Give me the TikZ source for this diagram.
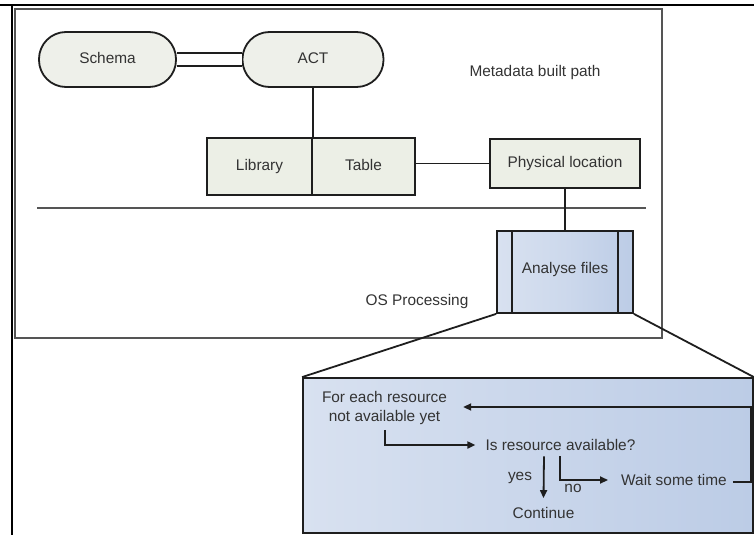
\documentclass[tikz,border=0pt]{standalone}
\usepackage{fontspec}
\setmainfont{Liberation Sans}
\usetikzlibrary{arrows.meta,calc}
\definecolor{pillfill}{HTML}{EEF0EA}
\definecolor{boxfill}{HTML}{ECEFE6}
\definecolor{txt}{HTML}{333333}
\definecolor{ln}{HTML}{1E1E1E}
\definecolor{frame}{HTML}{555555}
\definecolor{bluea}{HTML}{D8E1F0}
\definecolor{blueb}{HTML}{BCCCE6}
\newcommand{\fs}{\fontsize{15.4}{19}\selectfont}
\begin{document}
\begin{tikzpicture}[x=1pt,y=-1pt,
  pill/.style={draw=ln, line width=1.8pt, fill=pillfill, rounded corners=27pt,
    minimum height=55pt, text=txt, font=\fs, inner sep=0, text height=11pt, text depth=3pt},
  boxnode/.style={draw=ln, line width=1.8pt, fill=boxfill, text=txt, font=\fs, inner sep=0,
    text height=11pt, text depth=3pt},
  conn/.style={line width=1.8pt, draw=ln},
  arr/.style={conn, -{Triangle[length=8pt,width=7pt]}},
  ftext/.style={inner sep=0, text=txt, font=\fs, align=center}]
\useasboundingbox (0,0) rectangle (754,535);
% outer frame lines
\coordinate (ftl) at (0,5);
\coordinate (ftr) at (754,5);
\coordinate (fl1) at (12,5);
\coordinate (fl2) at (12,535);
\draw[line width=2.2pt, black] (ftl) -- (ftr);
\draw[line width=1.5pt, black] (fl1) -- (fl2);
% inner frame
\coordinate (ia) at (15,9);
\coordinate (ib) at (662,338);
\draw[frame, line width=1.6pt] (ia) rectangle (ib);
% separator
\coordinate (s1) at (37,208);
\coordinate (s2) at (646,208);
\draw[frame, line width=1.5pt] (s1) -- (s2);

% top nodes
\node[pill, minimum width=137pt] (schema) at (107.5,59.5) {Schema};
\node[pill, minimum width=141pt] (act) at (313,59.5) {ACT};
\node[boxnode, minimum width=105pt, minimum height=57pt] (library) at (259.5,166.5) {Library};
\node[boxnode, minimum width=103pt, minimum height=57pt] (table) at (363.5,166.5) {Table};
\node[boxnode, minimum width=150pt, minimum height=49pt] (phys) at (565,163.5) {Physical location};
\node[ftext] (meta) at (535,73) {Metadata built path};
\node[ftext] (osp) at (417,302) {OS Processing};

% Analyse files
\node[draw=ln, line width=1.8pt, left color=bluea, right color=blueb, middle color=bluea!60!blueb,
  minimum width=136pt, minimum height=82pt, inner sep=0] (analyse) at (565,272) {};
\draw[ln, line width=1.8pt] ($(analyse.north west)+(16,0)$) -- ($(analyse.south west)+(16,0)$);
\draw[ln, line width=1.8pt] ($(analyse.north east)+(-16,0)$) -- ($(analyse.south east)+(-16,0)$);
\node[ftext] (alabel) at (565,270) {Analyse files};

% bottom box
\node[draw=ln, line width=1.8pt, left color=bluea, right color=blueb, middle color=bluea!50!blueb,
  minimum width=450pt, minimum height=155pt, inner sep=0] (bottom) at (528,455.5) {};

% connectors top
\draw[conn, double=white, double distance=11pt, line width=1.5pt] (schema.east) -- (act.west);
\draw[conn] (act.south) -- (act.south |- library.north);
\draw[conn] (phys.west) -- (phys.west -| table.east);
\draw[conn] (phys.south) -- (analyse.north);
\draw[conn] (analyse.south west) -- (bottom.north west);
\draw[conn] (analyse.south east) -- (bottom.north east);

% flow texts
\node[ftext] (foreach) at (384.5,408) {For each resource\\not available yet};
\node[ftext] (isavail) at (560.5,445) {Is resource available?};
\node[ftext] (wait) at (674,480) {Wait some time};
\node[ftext] (cont) at (543.5,513) {Continue};
\node[ftext] (yes) at (520,478) {yes};
\node[ftext] (no) at (573,488) {no};

% flow arrows
\coordinate (r1) at (751,482);
\coordinate (r2) at (751,407);
\draw[arr] ([xshift=6pt,yshift=-2pt]wait.east) -- (r1) -- (r2) -- ($(foreach.east |- r2)+(16,0)$);
\draw[arr] ([xshift=0.5pt,yshift=-5pt]foreach.south) |- ([xshift=-10pt]isavail.west);
\draw[arr] ([xshift=-16.5pt,yshift=-5.5pt]isavail.south) -- ([yshift=9pt]cont.north);
\draw[arr] ([xshift=-0.5pt,yshift=-5.5pt]isavail.south) |- ([xshift=-13pt]wait.west);
\end{tikzpicture}
\end{document}
